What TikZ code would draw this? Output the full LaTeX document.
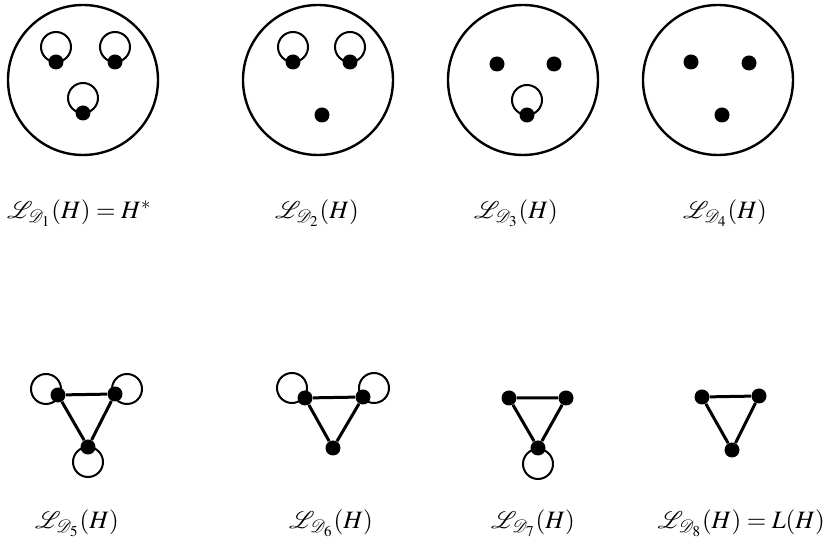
\documentclass[tikz,border=0pt]{standalone}
\usepackage{mathptmx}
\usepackage{mathrsfs}

\begin{document}
\begin{tikzpicture}[
    x=0.5pt, y=-0.5pt,
    vertex/.style={circle, fill=black, inner sep=0pt, minimum size=7.5pt},
    region/.style={draw, line width=1.2pt},
    selfloop/.style={draw, line width=1pt},
    edge/.style={draw, line width=1.5pt},
    lbl/.style={font=\fontsize{12.5}{14}\selectfont}
]
\useasboundingbox (0,0) rectangle (832,550);

% top row: H with its vertices inside the surrounding region
\path [region] (83,80) circle (37.5pt);
\node [vertex] (a1) at (56,62) {};
\node [vertex] (b1) at (115,62) {};
\node [vertex] (c1) at (83,113) {};
\path [selfloop] (a1) ++(0,-15) circle (7.5pt);
\path [selfloop] (b1) ++(0,-15) circle (7.5pt);
\path [selfloop] (c1) ++(0,-15) circle (7.5pt);

\path [region] (318,80) circle (37.5pt);
\node [vertex] (a2) at (293,62) {};
\node [vertex] (b2) at (350,62) {};
\node [vertex] (c2) at (322,115) {};
\path [selfloop] (a2) ++(0,-15) circle (7.5pt);
\path [selfloop] (b2) ++(0,-15) circle (7.5pt);

\path [region] (523,80) circle (37.5pt);
\node [vertex] (a3) at (497,64) {};
\node [vertex] (b3) at (554,64) {};
\node [vertex] (c3) at (527,115) {};
\path [selfloop] (c3) ++(0,-15) circle (7.5pt);

\path [region] (718,80) circle (37.5pt);
\node [vertex] (a4) at (691,62) {};
\node [vertex] (b4) at (749,63) {};
\node [vertex] (c4) at (722,115) {};

\node [lbl, anchor=west] (l1) at (0,213) {$\mathscr{L}_{\mathscr{D}_1}(H) = H^{*}$};
\node [lbl] (l2) at (317,213) {$\mathscr{L}_{\mathscr{D}_2}(H)$};
\node [lbl] (l3) at (516,213) {$\mathscr{L}_{\mathscr{D}_3}(H)$};
\node [lbl] (l4) at (725,213) {$\mathscr{L}_{\mathscr{D}_4}(H)$};

% bottom row: triangles
\node [vertex] (a5) at (58,395) {};
\node [vertex] (b5) at (115,394) {};
\node [vertex] (c5) at (88,447) {};
\path [edge] (a5) -- (b5) -- (c5) -- (a5);
\path [selfloop] (a5) ++(-12,-6) circle (7.5pt);
\path [selfloop] (b5) ++(12,-5) circle (7.5pt);
\path [selfloop] (c5) ++(0,15) circle (7.5pt);

\node [vertex] (a6) at (305,398) {};
\node [vertex] (b6) at (363,397) {};
\node [vertex] (c6) at (333,448) {};
\path [edge] (a6) -- (b6) -- (c6) -- (a6);
\path [selfloop] (a6) ++(-13,-10) circle (7.5pt);
\path [selfloop] (b6) ++(11,-9) circle (7.5pt);

\node [vertex] (a7) at (509,398) {};
\node [vertex] (b7) at (566,398) {};
\node [vertex] (c7) at (538,448) {};
\path [edge] (a7) -- (b7) -- (c7) -- (a7);
\path [selfloop] (c7) ++(0,16) circle (7.5pt);

\node [vertex] (a8) at (702,397) {};
\node [vertex] (b8) at (759,396) {};
\node [vertex] (c8) at (732,450) {};
\path [edge] (a8) -- (b8) -- (c8) -- (a8);

\node [lbl] (l5) at (77,523) {$\mathscr{L}_{\mathscr{D}_5}(H)$};
\node [lbl] (l6) at (331,523) {$\mathscr{L}_{\mathscr{D}_6}(H)$};
\node [lbl] (l7) at (533,523) {$\mathscr{L}_{\mathscr{D}_7}(H)$};
\node [lbl, anchor=east] (l8) at (832,523) {$\mathscr{L}_{\mathscr{D}_8}(H) = L(H)$};

\end{tikzpicture}
\end{document}
